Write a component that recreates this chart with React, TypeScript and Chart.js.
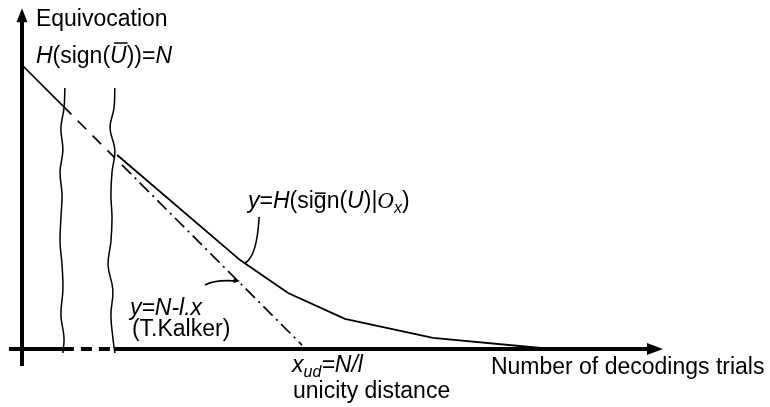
import React, { useEffect, useRef } from "react";
import { Chart, registerables } from "chart.js";

Chart.register(...registerables);

// ---- data (plotted units: N = 10, l = 1, so x_ud = N/l = 10) ----
// Equivocation curve y = H(sign(U) | O_x)
const curveX = [3.35, 7.68, 9.37, 11.37, 14.47, 17.89, 18.66];
const curveY = [6.83, 3.13, 1.97, 1.06, 0.39, 0.07, 0];

// Kalker bound y = N - l.x  (solid, broken, dash-dot parts)
const boundSolidX = [0, 1.44];
const boundSolidY = [10, 8.56];
const boundGapX = [1.44, 3.27];
const boundGapY = [8.56, 6.73];
const boundDashDotX = [3.52, 9.86];
const boundDashDotY = [6.48, 0.14];

// hand-drawn axis-break marks
const breakY = [9.19, 8.49, 7.78, 7.01, 6.23, 5.42, 4.61, 3.77, 2.96, 2.08, 1.2, 0.39, -0.14];
const break1X = [1.51, 1.48, 1.37, 1.44, 1.34, 1.41, 1.37, 1.34, 1.41, 1.44, 1.37, 1.48, 1.44];
const break2X = [3.27, 3.24, 3.1, 3.27, 3.17, 3.13, 3.17, 3.13, 3.03, 3.2, 3.13, 3.2, 3.27];

// axes
const xAxisSeg1X = [-0.46, 1.44];
const xAxisBreakX = [1.44, 3.27];
const xAxisSeg2X = [3.27, 22.1];
const xAxisTip = 22.57;
const yAxisX = [0, 0];
const yAxisY = [-0.6, 11.6];
const yAxisTip = 12.0;

// label anchors (data units)
const labelEquivocation = { x: 0.49, y: 11.37 };
const labelHN = { x: 0.49, y: 10.07 };
const labelCurve = { x: 7.96, y: 4.96 };
const labelBound = { x: 3.8, y: 1.2 };
const labelKalker = { x: 3.87, y: 0.46 };
const labelXud = { x: 9.51, y: -0.81 };
const labelUnicity = { x: 9.54, y: -1.73 };
const labelXTitle = { x: 16.51, y: -0.88 };

// leader curves: start, control, end
const leaderCurve = [
  { x: 8.35, y: 4.65 },
  { x: 8.27, y: 3.24 },
  { x: 7.85, y: 3.03 },
];
const leaderBound = [
  { x: 6.44, y: 2.25 },
  { x: 6.8, y: 2.46 },
  { x: 7.61, y: 2.39 },
];

const FONT = '"Liberation Sans", Arial, Helvetica, sans-serif';
const SIZE = 23;

type Run = {
  t: string;
  i?: boolean;
  sub?: boolean;
  over?: boolean;
  serif?: boolean;
};

const pts = (xs: number[], ys: number[]) => xs.map((x, k) => ({ x, y: ys[k] }));

function drawRuns(ctx: CanvasRenderingContext2D, runs: Run[], x: number, y: number) {
  let cx = x;
  for (const r of runs) {
    const size = r.sub ? 16 : SIZE;
    const fam = r.serif ? '"Liberation Serif", "DejaVu Serif", serif' : FONT;
    ctx.font = `${r.i ? "italic " : ""}${size}px ${fam}`;
    const dy = r.sub ? 5 : 0;
    ctx.fillText(r.t, cx, y + dy);
    const w = ctx.measureText(r.t).width;
    if (r.over) {
      ctx.save();
      ctx.lineWidth = 1.5;
      ctx.beginPath();
      if (r.t === "U") {
        ctx.moveTo(cx + 4, y - 20);
        ctx.lineTo(cx + w + 1, y - 20);
      } else {
        ctx.moveTo(cx + 1, y - 15);
        ctx.lineTo(cx + w - 1, y - 15);
      }
      ctx.stroke();
      ctx.restore();
    }
    cx += w;
  }
}

const annotPlugin = {
  id: "annot",
  afterDatasetsDraw(chart: any) {
    const ctx: CanvasRenderingContext2D = chart.ctx;
    const xs = chart.scales.x;
    const ys = chart.scales.y;
    const P = (p: { x: number; y: number }) => [xs.getPixelForValue(p.x), ys.getPixelForValue(p.y)];
    ctx.save();
    ctx.fillStyle = "#000";
    ctx.strokeStyle = "#000";

    // axis arrowheads
    const ax = xs.getPixelForValue(xAxisTip);
    const ay = ys.getPixelForValue(0);
    ctx.beginPath();
    ctx.moveTo(ax, ay);
    ctx.lineTo(ax - 16, ay - 6);
    ctx.lineTo(ax - 16, ay + 6);
    ctx.closePath();
    ctx.fill();
    const bx = xs.getPixelForValue(0);
    const by = ys.getPixelForValue(yAxisTip);
    ctx.beginPath();
    ctx.moveTo(bx, by);
    ctx.lineTo(bx - 5.5, by + 14);
    ctx.lineTo(bx + 5.5, by + 14);
    ctx.closePath();
    ctx.fill();

    // leader curves
    ctx.lineWidth = 1.6;
    for (const L of [leaderCurve, leaderBound]) {
      const [s, c, e] = L.map(P);
      ctx.beginPath();
      ctx.moveTo(s[0], s[1]);
      ctx.quadraticCurveTo(c[0], c[1], e[0], e[1]);
      ctx.stroke();
    }
    // small arrowhead on bound leader
    {
      const [, c, e] = leaderBound.map(P);
      const ang = Math.atan2(e[1] - c[1], e[0] - c[0]);
      ctx.beginPath();
      ctx.moveTo(e[0] + 2, e[1]);
      ctx.lineTo(e[0] + 2 - 7 * Math.cos(ang - 0.35), e[1] - 7 * Math.sin(ang - 0.35));
      ctx.lineTo(e[0] + 2 - 7 * Math.cos(ang + 0.35), e[1] - 7 * Math.sin(ang + 0.35));
      ctx.closePath();
      ctx.fill();
    }

    // labels
    ctx.textBaseline = "alphabetic";
    ctx.textAlign = "left";
    const L = (p: { x: number; y: number }, runs: Run[]) => {
      const [px, py] = P(p);
      drawRuns(ctx, runs, px, py);
    };
    L(labelEquivocation, [{ t: "Equivocation" }]);
    L(labelHN, [
      { t: "H", i: true },
      { t: "(sign(" },
      { t: "U", i: true, over: true },
      { t: "))=" },
      { t: "N", i: true },
    ]);
    L(labelCurve, [
      { t: "y", i: true },
      { t: "=" },
      { t: "H", i: true },
      { t: "(si" },
      { t: "g", over: true },
      { t: "n(" },
      { t: "U", i: true },
      { t: ")|" },
      { t: "O", i: true, serif: true },
      { t: "x", i: true, sub: true },
      { t: ")" },
    ]);
    L(labelBound, [{ t: "y=N-l.x", i: true }]);
    L(labelKalker, [{ t: "(T.Kalker)" }]);
    L(labelXud, [
      { t: "x", i: true },
      { t: "ud", i: true, sub: true },
      { t: "=N/l", i: true },
    ]);
    L(labelUnicity, [{ t: "unicity distance" }]);
    L(labelXTitle, [{ t: "Number of decodings trials" }]);
    ctx.restore();
  },
};

export default function App() {
  const ref = useRef<HTMLCanvasElement>(null);
  useEffect(() => {
    const base = {
      showLine: true,
      pointRadius: 0,
      borderColor: "#000",
      backgroundColor: "#000",
      fill: false,
      tension: 0,
      borderCapStyle: "butt" as const,
    };
    const chart = new Chart(ref.current!, {
      type: "scatter",
      data: {
        datasets: [
          { ...base, data: pts(xAxisSeg1X, [0, 0]), borderWidth: 4 },
          { ...base, data: pts(xAxisBreakX, [0, 0]), borderWidth: 4, borderDash: [11, 7] },
          { ...base, data: pts(xAxisSeg2X, [0, 0]), borderWidth: 4 },
          { ...base, data: pts(yAxisX, yAxisY), borderWidth: 4 },
          { ...base, data: pts(boundSolidX, boundSolidY), borderWidth: 1.7 },
          { ...base, data: pts(boundGapX, boundGapY), borderWidth: 1.7, borderDash: [12, 9] },
          { ...base, data: pts(boundDashDotX, boundDashDotY), borderWidth: 1.7, borderDash: [13, 5, 2, 5] },
          { ...base, data: pts(curveX, curveY), borderWidth: 1.8 },
          { ...base, data: pts(break1X, breakY), borderWidth: 1.5, tension: 0.4 },
          { ...base, data: pts(break2X, breakY), borderWidth: 1.5, tension: 0.4 },
        ],
      },
      options: {
        animation: false,
        responsive: false,
        maintainAspectRatio: false,
        devicePixelRatio: 1,
        layout: { padding: 0 },
        plugins: { legend: { display: false }, tooltip: { enabled: false } },
        scales: {
          x: { type: "linear", min: -22 / 28.4, max: 748 / 28.4, display: false },
          y: { type: "linear", min: -58 / 28.4, max: 349 / 28.4, display: false },
        },
      },
      plugins: [annotPlugin],
    });
    return () => chart.destroy();
  }, []);
  return (
    <div style={{ position: "fixed", left: 0, top: 0, width: 770, height: 407, background: "#fff" }}>
      <canvas ref={ref} width={770} height={407} style={{ display: "block" }} />
    </div>
  );
}
